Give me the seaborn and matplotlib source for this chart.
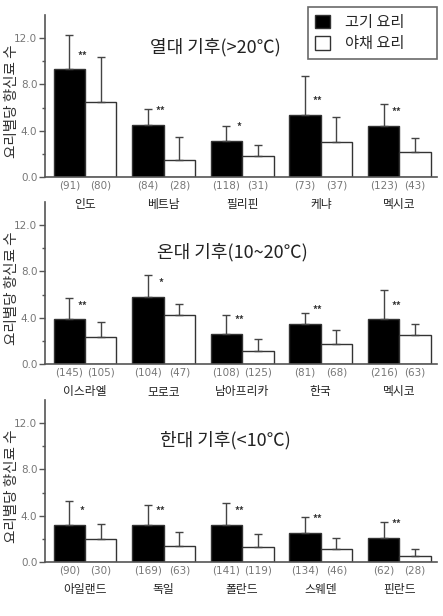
import numpy as np
import pandas as pd
import matplotlib.pyplot as plt
import seaborn as sns
from matplotlib.patches import Patch

sns.set_style('ticks')
plt.rcParams['font.family'] = ['Noto Sans CJK KR', 'DejaVu Sans']

# Data
series = ['고기 요리', '야채 요리']

tropical_countries = ['인도', '베트남', '필리핀', '케냐', '멕시코']
tropical_meat = [9.3, 4.5, 3.1, 5.4, 4.4]
tropical_meat_sd = [3.0, 1.35, 1.3, 3.3, 1.9]
tropical_veg = [6.5, 1.5, 1.8, 3.0, 2.2]
tropical_veg_sd = [3.9, 2.0, 1.0, 2.2, 1.2]
tropical_meat_n = [91, 84, 118, 73, 123]
tropical_veg_n = [80, 28, 31, 37, 43]
tropical_sig = ['**', '**', '*', '**', '**']

temperate_countries = ['이스라엘', '모로코', '남아프리카', '한국', '멕시코']
temperate_meat = [3.85, 5.8, 2.6, 3.5, 3.85]
temperate_meat_sd = [1.85, 1.9, 1.6, 0.9, 2.55]
temperate_veg = [2.3, 4.2, 1.15, 1.7, 2.5]
temperate_veg_sd = [1.35, 0.95, 1.0, 1.25, 0.95]
temperate_meat_n = [145, 104, 108, 81, 216]
temperate_veg_n = [105, 47, 125, 68, 63]
temperate_sig = ['**', '*', '**', '**', '**']

cold_countries = ['아일랜드', '독일', '폴란드', '스웨덴', '핀란드']
cold_meat = [3.2, 3.2, 3.2, 2.5, 2.1]
cold_meat_sd = [2.05, 1.7, 1.9, 1.4, 1.35]
cold_veg = [2.0, 1.4, 1.3, 1.15, 0.55]
cold_veg_sd = [1.3, 1.2, 1.1, 0.95, 0.6]
cold_meat_n = [90, 169, 141, 134, 62]
cold_veg_n = [30, 63, 119, 46, 28]
cold_sig = ['*', '**', '**', '**', '**']

panels = [
    ('열대 기후(>20℃)', tropical_countries, tropical_meat, tropical_meat_sd, tropical_veg,
     tropical_veg_sd, tropical_meat_n, tropical_veg_n, tropical_sig),
    ('온대 기후(10~20℃)', temperate_countries, temperate_meat, temperate_meat_sd, temperate_veg,
     temperate_veg_sd, temperate_meat_n, temperate_veg_n, temperate_sig),
    ('한대 기후(<10℃)', cold_countries, cold_meat, cold_meat_sd, cold_veg,
     cold_veg_sd, cold_meat_n, cold_veg_n, cold_sig),
]

W, H = 443, 616
fig = plt.figure(figsize=(W / 100, H / 100), dpi=100)
gray = '#555555'
bottoms = [177, 364, 562]
title_x = [0.434, 0.477, 0.459]
title_y = [0.80, 0.69, 0.75]

for i, (title, countries, meat, meat_sd, veg, veg_sd, meat_n, veg_n, sig) in enumerate(panels):
    ax = fig.add_axes([45 / W, (H - bottoms[i]) / H, 392 / W, 162 / H])
    ax.patch.set_visible(False)
    df = pd.DataFrame({
        'country': countries * 2,
        'value': meat + veg,
        'type': [series[0]] * 5 + [series[1]] * 5,
    })
    sns.barplot(data=df, x='country', y='value', hue='type', order=countries,
                hue_order=series, palette={series[0]: 'black', series[1]: 'white'},
                edgecolor='#333333', linewidth=1, width=0.8, errorbar=None,
                legend=False, ax=ax)

    for cont, sd, ns in zip(ax.containers, [meat_sd, veg_sd], [meat_n, veg_n]):
        xs = [b.get_x() + b.get_width() / 2 for b in cont]
        ys = [b.get_height() for b in cont]
        ax.errorbar(xs, ys, yerr=[np.zeros(len(sd)), sd], fmt='none',
                    ecolor='#444444', elinewidth=1, capsize=3, capthick=1, zorder=1)
        for x, n in zip(xs, ns):
            ax.annotate(f'({n})', (x, 0), xycoords=('data', 'axes fraction'),
                        xytext=(0, -6), textcoords='offset points',
                        ha='center', va='center', fontsize=7.5, color='#777777',
                        family=['DejaVu Sans'])

    for j, (c, s) in enumerate(zip(countries, sig)):
        ax.text(j - 0.04, meat[j] + 1.2, s, ha='center', va='center',
                fontsize=7, color='#333333', fontweight='bold')
        ax.annotate(c, (j, 0), xycoords=('data', 'axes fraction'),
                    xytext=(0, -20), textcoords='offset points',
                    ha='center', va='center', fontsize=8.5, color='#222222')

    ax.text(title_x[i], title_y[i], title, transform=ax.transAxes,
            ha='center', va='center', fontsize=13, color='#222222')

    ax.set_xlim(-0.51, 4.48)
    ax.set_ylim(0, 14)
    ax.set_yticks([0, 4, 8, 12])
    ax.set_yticklabels(['0.0', '4.0', '8.0', '12.0'])
    ax.set_yticks([2, 6, 10], minor=True)
    ax.tick_params(axis='y', which='major', length=4, width=1, color=gray,
                   labelsize=7.5, labelcolor='#777777', pad=1.5)
    ax.tick_params(axis='y', which='minor', length=2.5, width=1, color=gray)
    ax.tick_params(axis='x', length=0, labelbottom=False)
    for lab in ax.get_yticklabels():
        lab.set_family('DejaVu Sans')
    ax.set_xlabel('')
    ax.set_ylabel('요리별당 향신료 수', fontsize=10.5, color='#333333')
    ax.yaxis.set_label_coords(-0.067, 0.47)
    sns.despine(ax=ax)
    for sp in ['left', 'bottom']:
        ax.spines[sp].set_color(gray)
        ax.spines[sp].set_linewidth(1.2)

handles = [Patch(facecolor='black', edgecolor='#333333', label=series[0]),
           Patch(facecolor='white', edgecolor='#333333', label=series[1])]
leg = fig.legend(handles=handles, loc='upper left',
                 bbox_to_anchor=(308 / W, 1 - 58 / H, 129 / W, 51 / H), mode='expand',
                 fontsize=11, frameon=True, fancybox=False, handlelength=1.0,
                 handleheight=1.0, borderpad=0.45, labelspacing=0.3, handletextpad=1.0,
                 borderaxespad=0)
leg.get_frame().set_edgecolor('#444444')
leg.get_frame().set_linewidth(1.2)

fig.savefig('out.png', dpi=100)
